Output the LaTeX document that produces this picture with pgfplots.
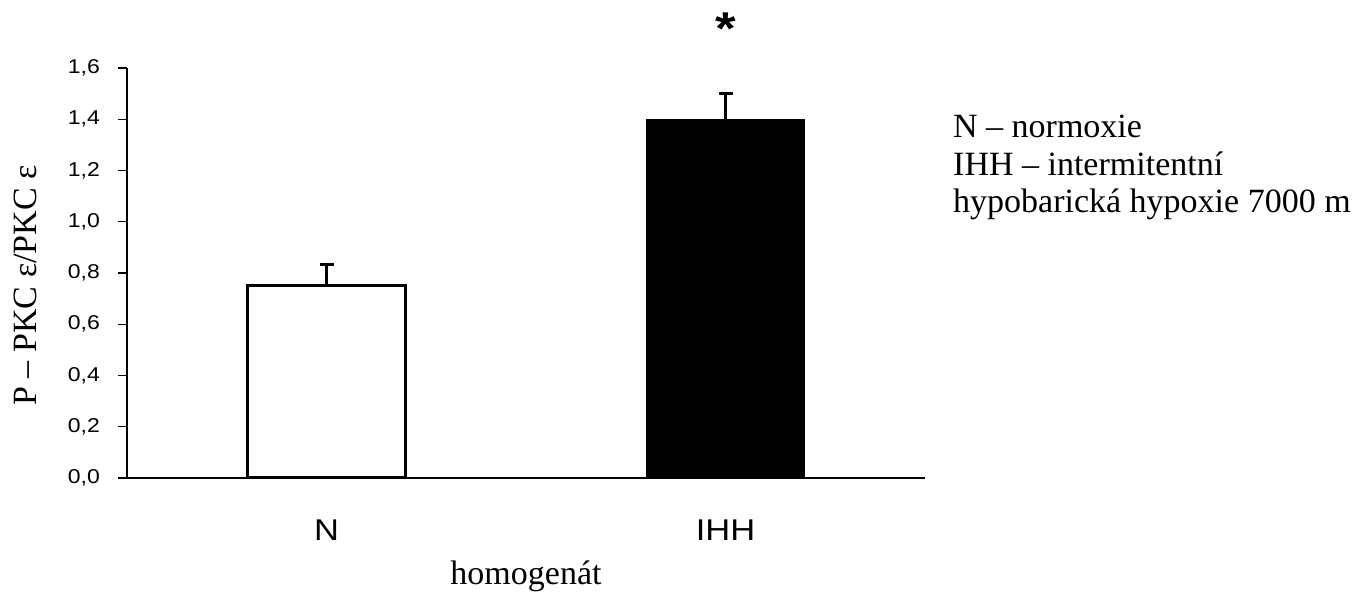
\documentclass[border=0pt]{standalone}
\usepackage{pgfplots}
\pgfplotsset{compat=1.18}
\usepackage{fontspec}
\setmainfont{Liberation Serif}
\newfontfamily\ticksans[FakeStretch=1.15]{Liberation Sans}
\begin{document}
\begin{tikzpicture}
\useasboundingbox (-127pt,-115pt) rectangle (1236pt,478pt);
\begin{axis}[
  at={(0pt,0pt)}, anchor=south west,
  scale only axis, width=798pt, height=410pt,
  xmin=-0.5, xmax=1.5, ymin=0, ymax=1.6,
  axis x line*=bottom, axis y line*=left,
  axis line style={line width=1.2pt, -},
  xtick={0,1}, xticklabels={N,IHH},
  ytick={0,0.2,0.4,0.6,0.8,1.0,1.2,1.4,1.6},
  x tick style={draw=none},
  y tick style={line width=1.2pt, black},
  tick align=outside,
  major tick length=9pt,
  /pgf/number format/.cd, fixed, fixed zerofill, precision=1, use comma, assume math mode=true,
  /pgfplots/.cd,
  yticklabel style={font=\ticksans\fontsize{20}{22}\selectfont, anchor=east, inner sep=0pt, xshift=-18pt},
  xticklabel style={font=\ticksans\fontsize{30}{32}\selectfont, anchor=base, inner sep=0pt, yshift=-54pt},
  xlabel={homogenát},
  every axis x label/.style={at={(axis description cs:0.5,0)}, anchor=base, inner sep=0pt, yshift=-107pt, font=\fontsize{34}{36}\selectfont},
  ylabel={P – PKC ε/PKC ε},
  every axis y label/.style={at={(axis description cs:0,0.47)}, rotate=90, anchor=center, inner sep=0pt, yshift=102pt, font=\fontsize{34}{36}\selectfont},
  clip=false,
]
\addplot[ybar, bar width=158pt, bar shift=0pt, fill=white, draw=black, line width=3pt,
  error bars/.cd, y dir=plus, y explicit,
  error bar style={line width=3pt, black},
  error mark options={rotate=90, mark size=7pt, line width=3pt, black}]
  coordinates {(0,0.75) +- (0,0.085)};
\addplot[ybar, bar width=158pt, bar shift=0pt, fill=black, draw=black, line width=1pt,
  error bars/.cd, y dir=plus, y explicit,
  error bar style={line width=3pt, black},
  error mark options={rotate=90, mark size=7pt, line width=3pt, black}]
  coordinates {(1,1.40) +- (0,0.10)};
\node[anchor=north, inner sep=0pt, font=\ticksans\bfseries\fontsize{46}{46}\selectfont] at (axis cs:1,1.815) {*};
\end{axis}
\node[anchor=base west, inner sep=0pt, font=\fontsize{34}{37}\selectfont] at (826pt,340pt) {N – normoxie};
\node[anchor=base west, inner sep=0pt, font=\fontsize{34}{37}\selectfont] at (826pt,302pt) {IHH – intermitentní};
\node[anchor=base west, inner sep=0pt, font=\fontsize{34}{37}\selectfont] at (826pt,265pt) {hypobarická hypoxie 7000 m};
\end{tikzpicture}
\end{document}
